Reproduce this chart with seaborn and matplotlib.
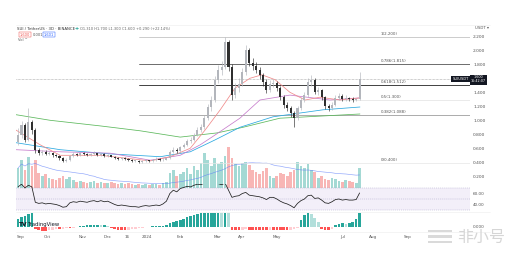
import matplotlib
matplotlib.use("Agg")
import matplotlib.pyplot as plt
import numpy as np
import pandas as pd
import seaborn as sns
from matplotlib.patches import Rectangle

sns.set_theme(style="white")
plt.rcParams['font.family'] = ['DejaVu Sans']

# ---------------- data ----------------
first_open = 0.70
close = [0.80, 0.94, 0.73, 0.99, 0.87, 0.59, 0.54, 0.56, 0.53, 0.54,
         0.51, 0.50, 0.47, 0.43, 0.44, 0.50, 0.53, 0.51, 0.54, 0.53,
         0.51, 0.53, 0.54, 0.51, 0.53, 0.50, 0.51, 0.49, 0.47, 0.46,
         0.47, 0.46, 0.44, 0.43, 0.43, 0.41, 0.43, 0.44, 0.43, 0.44,
         0.46, 0.44, 0.45, 0.47, 0.56, 0.59, 0.57, 0.63, 0.66, 0.71,
         0.73, 0.80, 0.87, 0.91, 1.04, 1.20, 1.30, 1.59, 1.73, 1.77,
         2.13, 1.77, 1.37, 1.47, 1.53, 1.70, 2.01, 1.83, 1.79, 1.73,
         1.66, 1.56, 1.44, 1.53, 1.54, 1.47, 1.34, 1.23, 1.19, 1.11,
         1.04, 1.19, 1.30, 1.37, 1.56, 1.59, 1.41, 1.44, 1.34, 1.21,
         1.19, 1.23, 1.33, 1.36, 1.31, 1.33, 1.31, 1.30, 1.31, 1.60]
high = [0.90, 1.00, 0.97, 1.19, 1.02, 0.90, 0.62, 0.59, 0.58, 0.57,
        0.56, 0.53, 0.52, 0.49, 0.47, 0.52, 0.56, 0.55, 0.56, 0.56,
        0.55, 0.55, 0.57, 0.55, 0.55, 0.54, 0.53, 0.52, 0.50, 0.49,
        0.49, 0.48, 0.47, 0.46, 0.45, 0.44, 0.45, 0.46, 0.45, 0.46,
        0.48, 0.47, 0.47, 0.49, 0.58, 0.63, 0.61, 0.65, 0.69, 0.74,
        0.77, 0.83, 0.91, 0.96, 1.08, 1.25, 1.36, 1.64, 1.80, 1.86,
        2.20, 2.16, 1.82, 1.55, 1.62, 1.76, 2.09, 2.04, 1.90, 1.84,
        1.77, 1.69, 1.60, 1.58, 1.60, 1.57, 1.50, 1.37, 1.27, 1.22,
        1.14, 1.22, 1.34, 1.42, 1.62, 1.66, 1.61, 1.49, 1.46, 1.36,
        1.25, 1.27, 1.37, 1.40, 1.38, 1.37, 1.35, 1.34, 1.33, 1.70]
low = [0.66, 0.76, 0.70, 0.71, 0.82, 0.55, 0.51, 0.52, 0.51, 0.51,
       0.49, 0.48, 0.45, 0.41, 0.42, 0.43, 0.49, 0.50, 0.50, 0.51,
       0.50, 0.50, 0.52, 0.50, 0.50, 0.49, 0.49, 0.48, 0.46, 0.45,
       0.45, 0.45, 0.43, 0.42, 0.42, 0.40, 0.40, 0.42, 0.42, 0.42,
       0.43, 0.43, 0.43, 0.44, 0.46, 0.54, 0.55, 0.56, 0.61, 0.64,
       0.68, 0.71, 0.78, 0.84, 0.89, 1.01, 1.15, 1.27, 1.55, 1.66,
       1.74, 1.72, 1.30, 1.33, 1.42, 1.50, 1.66, 1.78, 1.73, 1.68,
       1.60, 1.50, 1.40, 1.41, 1.48, 1.43, 1.30, 1.19, 1.14, 1.06,
       0.91, 1.01, 1.16, 1.27, 1.35, 1.50, 1.38, 1.37, 1.30, 1.17,
       1.15, 1.16, 1.21, 1.30, 1.28, 1.29, 1.28, 1.27, 1.28, 1.30]
volume = [20, 28, 18, 31, 22, 28, 15, 12, 14, 10,
          9, 8, 10, 12, 9, 11, 8, 6, 7, 6,
          5, 6, 7, 5, 6, 5, 5, 6, 5, 4,
          5, 4, 5, 4, 3, 4, 3, 4, 3, 4,
          4, 3, 5, 6, 15, 18, 12, 14, 16, 20,
          14, 22, 18, 25, 35, 28, 22, 30, 24, 26,
          32, 41, 30, 24, 22, 25, 26, 23, 18, 16,
          14, 17, 20, 12, 10, 12, 15, 14, 12, 16,
          18, 26, 22, 20, 24, 18, 16, 10, 12, 9,
          8, 10, 9, 7, 6, 8, 7, 6, 5, 20]
rsi = [72, 77, 70, 75, 72, 44, 42, 43, 41, 42,
       41, 40, 38, 35, 36, 43, 45, 44, 46, 45,
       44, 46, 47, 45, 47, 45, 46, 43, 40, 38,
       39, 38, 37, 36, 36, 35, 37, 38, 37, 38,
       39, 38, 41, 46, 60, 66, 63, 69, 71, 73,
       72, 75, 77, 76, 79, 80, 79, 80, 78, 76,
       79, 66, 53, 55, 56, 60, 62, 57, 56, 55,
       54, 52, 49, 53, 53, 50, 46, 43, 41, 38,
       34, 42, 47, 50, 56, 57, 51, 52, 48, 43,
       42, 45, 49, 50, 48, 49, 48, 48, 49, 61]
macd_hist = [8, 10, 11, 13, 14, -2, -3, -4, -4, -3,
             -2.5, -2, -2, -1.5, -1, -1, -0.5, 0.5, 1, 1.5,
             2, 2, 2.5, 2.5, 2, 2, 1.5, -1, -2, -3,
             -3, -3, -2.5, -2, -1.5, -1, -0.5, 0.5, 0.5, 1,
             1, 1, 1.5, 2, 4, 5, 6, 7, 8, 10,
             11, 12, 13, 15, 16, 16, 17, 18, 18, 17,
             18, 15, -3, -3, -3, -2.5, -2, -3, -3, -3,
             -3, -3, -3, -2.5, -2.5, -3, -3, -3, -3, -2.5,
             -2, -1, 7, 12, 15, 13, 9, 5, -2, -3,
             -3, -2, 2, 3, 4, 3, 4, 5, 8, 15]

ma20_idx = [-0.6, 6.4, 12.2, 23.8, 38.3, 44.1, 49.9, 54.2, 58.6, 62.9, 67.2, 70.7, 74.5, 78.8, 83.2, 87.5, 93.3, 99.1]
ma20_val = [0.87, 0.66, 0.51, 0.51, 0.43, 0.49, 0.61, 0.87, 1.16, 1.47, 1.61, 1.66, 1.59, 1.41, 1.30, 1.34, 1.30, 1.33]
ma50_idx = [-0.6, 12.2, 26.7, 38.3, 47.0, 52.8, 57.1, 64.3, 70.1, 78.8, 90.4, 99.1]
ma50_val = [0.59, 0.56, 0.54, 0.44, 0.51, 0.66, 0.80, 1.04, 1.30, 1.37, 1.30, 1.33]
ma100_idx = [-0.6, 12.2, 26.7, 41.2, 49.9, 57.1, 64.3, 73.9, 88.4, 99.1]
ma100_val = [0.69, 0.59, 0.53, 0.49, 0.56, 0.73, 0.91, 1.06, 1.16, 1.20]
ma200_idx = [-0.6, 9.3, 23.8, 35.4, 47.0, 57.7, 65.2, 75.9, 83.8, 99.1]
ma200_val = [1.09, 1.01, 0.93, 0.86, 0.77, 0.83, 0.91, 1.04, 1.06, 1.10]

date_pos = [0.6, 8.4, 18.8, 25.8, 31.6, 37.4, 47, 57.7, 64.9, 75, 94.2, 102.9, 112.8]
date_lbl = ["Sep", "Oct", "Nov", "Dec", "16", "2024", "Feb", "Mar", "Apr", "May", "Jul", "Aug", "Sep"]
fib_levels = [1, 0.786, 0.618, 0.5, 0.382, 0]
fib_colors = ["#b8b8b8", "#555555", "#222222", "#e2e2e2", "#8a8a8a", "#e6e6e6"]
price_ticks = [0.2, 0.4, 0.6, 0.8, 1.0, 1.2, 1.4, 1.8, 2.0, 2.2]
rsi_ticks = [60, 40]

# ---------------- layout ----------------
W, H = 522, 254
fig = plt.figure(figsize=(W / 100, H / 100), dpi=100)
fig.patch.set_facecolor("white")


def rect(x0, y0, x1, y1):
    return [x0 / W, 1 - y1 / H, (x1 - x0) / W, (y1 - y0) / H]


n = len(close)
idx = np.arange(n)
opens = [first_open] + close[:-1]
up = [c >= o for o, c in zip(opens, close)]
XL = (-0.6, 131.0)

# volume (behind price)
axv = fig.add_axes(rect(16, 25, 470, 188))
axv.set_zorder(0)
vcols = ["#26a69a" if u else "#ef5350" for u in up]
axv.bar(idx, volume, width=0.78, color=vcols, alpha=0.42, linewidth=0)
vma = pd.Series(volume).rolling(20, min_periods=1).mean()
sns.lineplot(x=idx, y=vma.values, ax=axv, color="#5c7cfa", lw=0.45, alpha=0.7, legend=False)
axv.set_xlim(*XL)
axv.set_ylim(0, 163)
axv.axis("off")

# price
ax = fig.add_axes(rect(16, 25, 470, 188))
ax.set_zorder(2)
ax.patch.set_alpha(0)
ax.set_xlim(*XL)
ymin = 2.2 - (188 - 37) / 70
ymax = 2.2 + (37 - 25) / 70
ax.set_ylim(ymin, ymax)

hi_p, lo_p = max(high), min(low)
x_low = int(np.argmin(low))
for lvl, col in zip(fib_levels, fib_colors):
    p = lo_p + lvl * (hi_p - lo_p)
    ax.plot([x_low, XL[1]], [p, p], color=col, lw=0.6 if col in ("#222222", "#555555") else 0.5, zorder=1)
    ax.text(105.2, p + 0.012, f"{lvl:g}({p:.3f})", fontsize=2.9, color="#555555",
            va="bottom", ha="left", zorder=3)

ax.axhline(close[-1], color="#8a8a8a", lw=0.45, ls=(0, (1, 1.2)), zorder=1)

for ma_i, ma_v, col in [(ma200_idx, ma200_val, "#5cb85c"), (ma100_idx, ma100_val, "#29a8e0"),
                        (ma50_idx, ma50_val, "#c77dcc"), (ma20_idx, ma20_val, "#f08a8a")]:
    sns.lineplot(x=ma_i, y=ma_v, ax=ax, color=col, lw=0.55, legend=False, sort=False, zorder=2)

ccols = ["#b3b6bc" if u else "#2f2f2f" for u in up]
ax.vlines(idx, low, high, colors=ccols, lw=0.45, zorder=3)
bottoms = [min(o, c) for o, c in zip(opens, close)]
heights = [max(abs(c - o), 0.006) for o, c in zip(opens, close)]
ax.bar(idx, heights, bottom=bottoms, width=0.6, color=ccols, linewidth=0, zorder=4)

ax.yaxis.tick_right()
ax.set_yticks(price_ticks)
ax.set_yticklabels([f"{t:.3f}" for t in price_ticks])
ax.tick_params(axis="y", length=0, pad=2.2, labelsize=3.2, labelcolor="#555555")
ax.set_xticks([])
for s in ax.spines.values():
    s.set_visible(False)
ax.set_xlabel("")
ax.set_ylabel("")

# RSI
axr = fig.add_axes(rect(16, 184, 470, 213))
axr.patch.set_alpha(0)
axr.set_zorder(3)
axr.set_xlim(*XL)
axr.set_ylim(24.5, 77.3)
axr.axhspan(30, 70, color="#7e57c2", alpha=0.09, lw=0)
for lv in (70, 50, 30):
    axr.axhline(lv, color="#a9a3c9", lw=0.35, ls=(0, (2, 2)))
sns.lineplot(x=idx, y=rsi, ax=axr, color="#1e1e1e", lw=0.55, legend=False)
axr.yaxis.tick_right()
axr.set_yticks(rsi_ticks)
axr.set_yticklabels([f"{t:.2f}" for t in rsi_ticks])
axr.tick_params(axis="y", length=0, pad=2.2, labelsize=3.0, labelcolor="#555555")
axr.set_xticks([])
for s in axr.spines.values():
    s.set_visible(False)
axr.set_xlabel("")
axr.set_ylabel("")

# MACD
axm = fig.add_axes(rect(16, 213, 470, 232))
axm.set_xlim(*XL)
axm.set_ylim(-5, 14)
mcols = []
for k, h in enumerate(macd_hist):
    prev = macd_hist[k - 1] if k > 0 else h
    if h >= 0:
        mcols.append("#26a69a" if h >= prev else "#b2dfdb")
    else:
        mcols.append("#ffcdd2" if h > prev else "#ff5252")
axm.bar(idx, macd_hist, width=0.75, color=mcols, linewidth=0)
axm.yaxis.tick_right()
axm.set_yticks([0.8])
axm.set_yticklabels(["0.000"])
axm.tick_params(axis="y", length=0, pad=2.2, labelsize=3.0, labelcolor="#555555")
axm.set_xticks(date_pos)
axm.set_xticklabels(date_lbl)
axm.tick_params(axis="x", length=0, pad=2.0, labelsize=3.0, labelcolor="#555555")
for s in axm.spines.values():
    s.set_visible(False)

# separators
for yy in (25, 212, 232):
    fig.add_artist(plt.Line2D([16 / W, 490 / W], [1 - yy / H, 1 - yy / H], color="#ececec", lw=0.4))

# header
fig.text(17 / W, 1 - 29 / H, "SUI / TetherUS · 3D · BINANCE", fontsize=2.8, color="#333333", va="center")
fig.text(74.5 / W, 1 - 29 / H, "+", fontsize=3.6, color="#26a69a", va="center", weight="bold")
fig.text(80 / W, 1 - 29 / H, "O1.310 H1.700 L1.300 C1.600 +0.290 (+22.14%)", fontsize=2.6,
         color="#666666", va="center")
fig.text(20 / W, 1 - 34.5 / H, "1.600", fontsize=2.6, color="#ef5350", va="center",
         bbox=dict(boxstyle="square,pad=0.25", fc="white", ec="#ef5350", lw=0.35))
fig.text(33 / W, 1 - 34.5 / H, "0.001", fontsize=2.6, color="#555555", va="center")
fig.text(44 / W, 1 - 34.5 / H, "1.601", fontsize=2.6, color="#2962ff", va="center",
         bbox=dict(boxstyle="square,pad=0.25", fc="white", ec="#2962ff", lw=0.35))
fig.text(18 / W, 1 - 40 / H, "Vol ^", fontsize=2.6, color="#555555", va="center")

# right axis extras
fig.text(475 / W, 1 - 28 / H, "USDT ▾", fontsize=2.8, color="#555555", va="center")
fig.text(460.5 / W, 1 - 79 / H, "SUIUSDT", fontsize=2.6, color="white", va="center", ha="center",
         bbox=dict(boxstyle="square,pad=0.3", fc="#131722", ec="none"))
fig.text(478.5 / W, 1 - 79.5 / H, f"{close[-1]:.3f}\n16:42:07", fontsize=2.4, color="white",
         va="center", ha="center", linespacing=1.0,
         bbox=dict(boxstyle="square,pad=0.3", fc="#131722", ec="none"))

# TradingView logo
fig.text(19 / W, 1 - 224.5 / H, "TV", fontsize=4.2, color="#131722", va="center", weight="bold")
fig.text(27.5 / W, 1 - 224.5 / H, "TradingView", fontsize=3.8, color="#131722", va="center")

# watermark
for (y0, y1) in [(229.5, 232), (235, 237.5), (240.5, 243)]:
    fig.add_artist(Rectangle((428 / W, 1 - y1 / H), 24 / W, (y1 - y0) / H,
                             transform=fig.transFigure, color="#dadada", lw=0))
fig.text(457 / W, 1 - 237.5 / H, "非小号", fontsize=11.5, color="#d6d6d6", va="center",
         family=["Noto Sans CJK SC", "DejaVu Sans"])

fig.savefig("out.png", dpi=100, facecolor="white")
